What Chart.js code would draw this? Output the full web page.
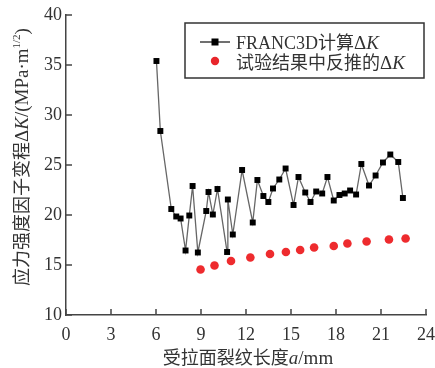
<!DOCTYPE html>
<html>
<head>
<meta charset="utf-8">
<script src="https://cdn.jsdelivr.net/npm/chart.js@4"></script>
<style>
  html, body { margin: 0; padding: 0; background: #fff; }
  #wrap { width: 435px; height: 368px; }
</style>
</head>
<body>
<div id="wrap"><canvas id="chart" width="435" height="368"></canvas></div>
<script>
// FRANC3D 计算 ΔK
const calcLength = [6.03, 6.29, 7.02, 7.35, 7.64, 7.97, 8.22, 8.44, 8.79, 9.35, 9.5, 9.79, 10.1, 10.74, 10.79, 11.12,
    11.74, 12.45, 12.76, 13.16, 13.49, 13.8, 14.22, 14.64, 15.17, 15.5, 15.95, 16.3, 16.68, 17.08, 17.43, 17.85,
    18.23, 18.58, 18.94, 19.34, 19.69, 20.2, 20.64, 21.13, 21.62, 22.15, 22.46];
const calcDeltaK = [35.4, 28.4, 20.6, 19.85, 19.65, 16.45, 19.95, 22.9, 16.25, 20.4, 22.3, 20.05, 22.6, 16.3, 21.55, 18.05,
    24.5, 19.25, 23.5, 21.9, 21.3, 22.65, 23.55, 24.65, 21.0, 23.8, 22.25, 21.3, 22.35, 22.15, 23.8, 21.45,
    22.0, 22.15, 22.45, 22.05, 25.1, 22.95, 23.95, 25.25, 26.05, 25.3, 21.7];

// 试验结果中反推的 ΔK
const testLength = [8.97, 9.9, 11.0, 12.29, 13.6, 14.66, 15.61, 16.54, 17.85, 18.76, 20.04, 21.53, 22.64];
const testDeltaK = [14.55, 14.95, 15.4, 15.75, 16.1, 16.3, 16.5, 16.75, 16.9, 17.15, 17.35, 17.55, 17.65];

const xTicks = [0, 3, 6, 9, 12, 15, 18, 21, 24];
const yTicks = [10, 15, 20, 25, 30, 35, 40];

const serif = '"Liberation Serif", "Noto Sans CJK SC", serif';
const textColor = '#333';
const axisColor = '#444';

// 画内向刻度线、坐标轴标题和图例
const decorPlugin = {
    id: 'decor',
    afterDraw(chart) {
        const ctx = chart.ctx;
        const xs = chart.scales.x, ys = chart.scales.y;
        const area = chart.chartArea;
        ctx.save();
        ctx.strokeStyle = axisColor;
        ctx.lineWidth = 1.5;
        xTicks.forEach(v => {
            const px = Math.round(xs.getPixelForValue(v));
            ctx.beginPath();
            ctx.moveTo(px, area.bottom);
            ctx.lineTo(px, area.bottom - 6);
            ctx.stroke();
        });
        yTicks.forEach(v => {
            const py = Math.round(ys.getPixelForValue(v));
            ctx.beginPath();
            ctx.moveTo(area.left, py);
            ctx.lineTo(area.left + 6, py);
            ctx.stroke();
        });

        ctx.fillStyle = textColor;
        ctx.textBaseline = 'alphabetic';

        // x 轴标题
        const xParts = [
            { t: '受拉面裂纹长度', f: '18px ' + serif },
            { t: 'a', f: 'italic 19px ' + serif },
            { t: '/mm', f: '19px ' + serif }
        ];
        drawParts(ctx, xParts, 248, 364);

        // y 轴标题（旋转）
        ctx.save();
        ctx.translate(28, 157);
        ctx.rotate(-Math.PI / 2);
        const yParts = [
            { t: '应力强度因子变程', f: '18px ' + serif },
            { t: 'Δ', f: '19px ' + serif },
            { t: 'K', f: 'italic 19px ' + serif },
            { t: '/(MPa·m', f: '19px ' + serif },
            { t: '1/2', f: '11px ' + serif, dy: -8 },
            { t: ')', f: '19px ' + serif }
        ];
        drawParts(ctx, yParts, 0, 0);
        ctx.restore();

        // 图例
        const lx = 185, ly = 23, lw = 239, lh = 55;
        ctx.fillStyle = '#fff';
        ctx.fillRect(lx, ly, lw, lh);
        ctx.strokeStyle = '#333';
        ctx.lineWidth = 1.5;
        ctx.strokeRect(lx, ly, lw, lh);

        ctx.strokeStyle = '#222';
        ctx.lineWidth = 1.3;
        ctx.beginPath();
        ctx.moveTo(200, 42);
        ctx.lineTo(230, 42);
        ctx.stroke();
        ctx.fillStyle = '#000';
        ctx.fillRect(211.5, 38.5, 7, 7);

        ctx.fillStyle = '#e8262b';
        ctx.beginPath();
        ctx.arc(215, 61, 4.2, 0, Math.PI * 2);
        ctx.fill();

        ctx.fillStyle = textColor;
        const row1 = [
            { t: 'FRANC3D', f: '18px ' + serif },
            { t: '计算', f: '18px ' + serif },
            { t: 'Δ', f: '19px ' + serif },
            { t: 'K', f: 'italic 19px ' + serif }
        ];
        const row2 = [
            { t: '试验结果中反推的', f: '18px ' + serif },
            { t: 'Δ', f: '19px ' + serif },
            { t: 'K', f: 'italic 19px ' + serif }
        ];
        drawParts(ctx, row1, null, 49, 236);
        drawParts(ctx, row2, null, 69, 236);
        ctx.restore();
    }
};

function drawParts(ctx, parts, cx, y, startX) {
    let total = 0;
    parts.forEach(p => { ctx.font = p.f; total += ctx.measureText(p.t).width; });
    let x = startX !== undefined ? startX : cx - total / 2;
    ctx.textAlign = 'left';
    parts.forEach(p => {
        ctx.font = p.f;
        ctx.fillText(p.t, x, y + (p.dy || 0));
        x += ctx.measureText(p.t).width;
    });
}

const ctx = document.getElementById('chart').getContext('2d');
new Chart(ctx, {
    type: 'scatter',
    data: {
        datasets: [{
            label: 'FRANC3D计算ΔK',
            data: calcLength.map((x, i) => ({ x: x, y: calcDeltaK[i] })),
            showLine: true,
            borderColor: '#666',
            borderWidth: 1.3,
            pointStyle: 'rect',
            pointRadius: 4.2,
            pointBackgroundColor: '#000',
            pointBorderColor: '#000',
            pointBorderWidth: 0
        }, {
            label: '试验结果中反推的ΔK',
            data: testLength.map((x, i) => ({ x: x, y: testDeltaK[i] })),
            showLine: false,
            pointStyle: 'circle',
            pointRadius: 4.3,
            pointBackgroundColor: '#ee2b2e',
            pointBorderWidth: 0
        }]
    },
    options: {
        responsive: false,
        animation: false,
        layout: { padding: { top: 15, right: 9, left: 0, bottom: 0 } },
        plugins: {
            legend: { display: false },
            tooltip: { enabled: false }
        },
        scales: {
            x: {
                type: 'linear',
                min: 0,
                max: 24,
                afterBuildTicks: scale => { scale.ticks = xTicks.map(v => ({ value: v })); },
                afterFit: scale => {
                    scale.height = 53;
                    scale.paddingLeft = 0;
                    scale.paddingRight = 0;
                },
                grid: { display: false, drawTicks: false },
                border: { display: true, color: axisColor, width: 1.5 },
                ticks: { color: textColor, font: { family: serif, size: 18 }, padding: 9, maxRotation: 0 }
            },
            y: {
                type: 'linear',
                min: 10,
                max: 40,
                afterBuildTicks: scale => { scale.ticks = yTicks.map(v => ({ value: v })); },
                afterFit: scale => {
                    scale.width = 66;
                    scale.paddingTop = 0;
                    scale.paddingBottom = 0;
                },
                grid: { display: false, drawTicks: false },
                border: { display: true, color: axisColor, width: 1.5 },
                ticks: { color: textColor, font: { family: serif, size: 18 }, padding: 4 }
            }
        }
    },
    plugins: [decorPlugin]
});
</script>
</body>
</html>
